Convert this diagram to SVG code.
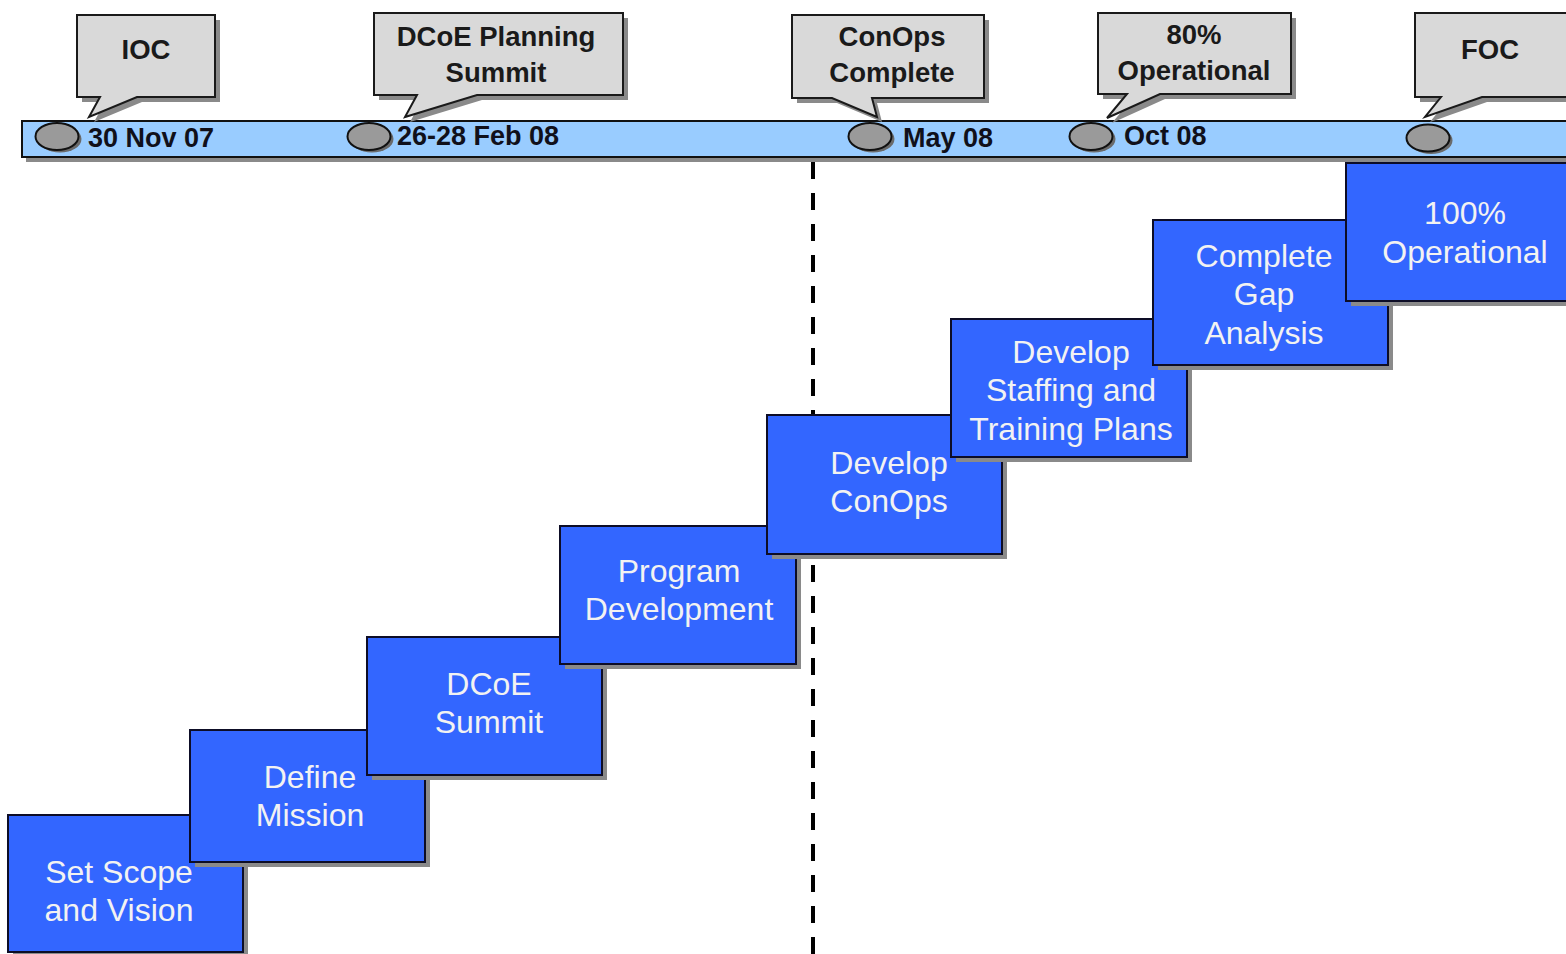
<svg xmlns="http://www.w3.org/2000/svg" width="1566" height="954" viewBox="0 0 1566 954">
<style>
.shadow{fill:#8a8a8a}
.callout{fill:#D9D9D9;stroke:#1a1a1a;stroke-width:2}
.ctext{font-family:"Liberation Sans",Arial,sans-serif;font-weight:bold;font-size:27.5px;fill:#1a1a1a;text-anchor:middle}
.date{font-family:"Liberation Sans",Arial,sans-serif;font-weight:bold;font-size:27px;fill:#10101a}
.step{fill:#3366FF;stroke:#0d0d26;stroke-width:2}
.stext{font-family:"Liberation Sans",Arial,sans-serif;font-size:32px;fill:#F2F2F2;text-anchor:middle}
.dot{fill:#9a9a9a;stroke:#111;stroke-width:2}
.dotsh{fill:#6a6a6a}
</style>
<rect width="1566" height="954" fill="#ffffff"/>

<g id="connectors">
<line x1="813" y1="162" x2="813" y2="954" stroke="#000" stroke-width="4" stroke-dasharray="17 14"/>
</g>

<g id="timeline">
<rect x="26" y="125" width="1560" height="37" class="shadow"/>
<rect x="22" y="121" width="1560" height="36" fill="#99CCFF" stroke="#111" stroke-width="2"/>
</g>

<g id="m-ioc">
<ellipse cx="60" cy="139" rx="21.5" ry="13.5" class="dotsh"/>
<ellipse cx="57" cy="136.5" rx="21.5" ry="13.5" class="dot"/>
<text x="88" y="147" class="date">30 Nov 07</text>
<path d="M82,20 H220 V102 H142 L94,122 L105,102 H82 Z" class="shadow"/>
<path d="M77,15 H215 V97 H137 L89,117 L100,97 H77 Z" class="callout"/>
<text x="146" y="59" class="ctext">IOC</text>
</g>

<g id="m-summit">
<ellipse cx="372" cy="139" rx="21.5" ry="13.5" class="dotsh"/>
<ellipse cx="369" cy="136.5" rx="21.5" ry="13.5" class="dot"/>
<text x="397" y="145" class="date">26-28 Feb 08</text>
<path d="M379,18 H628 V100 H482 L410,122 L422,100 H379 Z" class="shadow"/>
<path d="M374,13 H623 V95 H477 L405,117 L417,95 H374 Z" class="callout"/>
<text x="496" y="46" class="ctext">DCoE Planning</text>
<text x="496" y="82" class="ctext">Summit</text>
</g>

<g id="m-conops">
<ellipse cx="873" cy="139" rx="21.5" ry="13.5" class="dotsh"/>
<ellipse cx="870" cy="136.5" rx="21.5" ry="13.5" class="dot"/>
<text x="903" y="147" class="date">May 08</text>
<path d="M797,20 H989 V103 H877 L882,122 L837,103 H797 Z" class="shadow"/>
<path d="M792,15 H984 V98 H872 L877,117 L832,98 H792 Z" class="callout"/>
<text x="892" y="46" class="ctext">ConOps</text>
<text x="892" y="82" class="ctext">Complete</text>
</g>

<g id="m-80">
<ellipse cx="1094" cy="139" rx="21.5" ry="13.5" class="dotsh"/>
<ellipse cx="1091" cy="136.5" rx="21.5" ry="13.5" class="dot"/>
<text x="1124" y="145" class="date">Oct 08</text>
<path d="M1103,18 H1296 V99 H1165 L1112,123 L1132,99 H1103 Z" class="shadow"/>
<path d="M1098,13 H1291 V94 H1160 L1107,118 L1127,94 H1098 Z" class="callout"/>
<text x="1194" y="44" class="ctext">80%</text>
<text x="1194" y="80" class="ctext">Operational</text>
</g>

<g id="m-foc">
<ellipse cx="1431" cy="140.5" rx="21.5" ry="13.5" class="dotsh"/>
<ellipse cx="1428" cy="138" rx="21.5" ry="13.5" class="dot"/>
<path d="M1420,18 H1580 V102 H1487 L1430,122 L1446,102 H1420 Z" class="shadow"/>
<path d="M1415,13 H1575 V97 H1482 L1425,117 L1441,97 H1415 Z" class="callout"/>
<text x="1490" y="59" class="ctext">FOC</text>
</g>

<g id="s1">
<rect x="13" y="820" width="235" height="137" class="shadow"/>
<rect x="8" y="815" width="235" height="137" class="step"/>
<text x="119" y="883" class="stext">Set Scope</text>
<text x="119" y="921" class="stext">and Vision</text>
</g>

<g id="s2">
<rect x="195" y="735" width="235" height="132" class="shadow"/>
<rect x="190" y="730" width="235" height="132" class="step"/>
<text x="310" y="788" class="stext">Define</text>
<text x="310" y="826" class="stext">Mission</text>
</g>

<g id="s3">
<rect x="372" y="642" width="235" height="138" class="shadow"/>
<rect x="367" y="637" width="235" height="138" class="step"/>
<text x="489" y="695" class="stext">DCoE</text>
<text x="489" y="733" class="stext">Summit</text>
</g>

<g id="s4">
<rect x="565" y="531" width="236" height="138" class="shadow"/>
<rect x="560" y="526" width="236" height="138" class="step"/>
<text x="679" y="582" class="stext">Program</text>
<text x="679" y="620" class="stext">Development</text>
</g>

<g id="s5">
<rect x="772" y="420" width="235" height="139" class="shadow"/>
<rect x="767" y="415" width="235" height="139" class="step"/>
<text x="889" y="474" class="stext">Develop</text>
<text x="889" y="512" class="stext">ConOps</text>
</g>

<g id="s6">
<rect x="956" y="324" width="236" height="138" class="shadow"/>
<rect x="951" y="319" width="236" height="138" class="step"/>
<text x="1071" y="363" class="stext">Develop</text>
<text x="1071" y="401" class="stext">Staffing and</text>
<text x="1071" y="440" class="stext">Training Plans</text>
</g>

<g id="s7">
<rect x="1158" y="225" width="235" height="145" class="shadow"/>
<rect x="1153" y="220" width="235" height="145" class="step"/>
<text x="1264" y="267" class="stext">Complete</text>
<text x="1264" y="305" class="stext">Gap</text>
<text x="1264" y="344" class="stext">Analysis</text>
</g>

<g id="s8">
<rect x="1351" y="168" width="240" height="138" class="shadow"/>
<rect x="1346" y="163" width="240" height="138" class="step"/>
<text x="1465" y="224" class="stext">100%</text>
<text x="1465" y="263" class="stext">Operational</text>
</g>
</svg>
